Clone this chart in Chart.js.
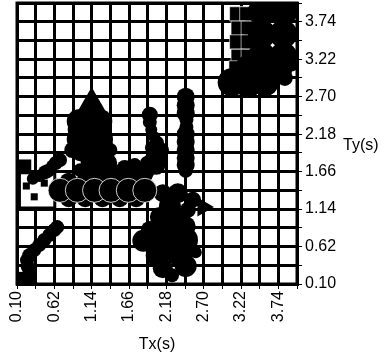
<!DOCTYPE html>
<html>
<head>
<meta charset="utf-8">
<script src="https://cdn.jsdelivr.net/npm/chart.js@4/dist/chart.umd.min.js"></script>
<style>
  html, body { margin: 0; padding: 0; background: #fff; }
  #wrap { width: 389px; height: 360px; }
</style>
</head>
<body>
<div id="wrap"><canvas id="c" width="389" height="360"></canvas></div>
<script>
// Period pairs (Tx, Ty) in seconds, grouped by record
const tickValues = [0.10, 0.62, 1.14, 1.66, 2.18, 2.70, 3.22, 3.74];
const axisMin = 0.10;
const axisMax = 4.00;
const gridStep = 0.26;

const seriesA = [
  {x:3.51,y:3.88},{x:3.81,y:3.88},{x:3.51,y:3.57},{x:3.81,y:3.57},
  {x:3.51,y:3.26},{x:3.81,y:3.26},{x:3.51,y:3.01},{x:3.09,y:2.90},{x:3.32,y:2.88}
];
const seriesB = [
  {x:2.13,y:0.70},{x:2.44,y:0.71},{x:2.37,y:0.52}
];
const seriesC = [
  {x:3.57,y:2.88},{x:3.76,y:3.04},{x:2.06,y:0.50},
  {x:0.96,y:2.36},{x:1.26,y:2.36},{x:0.96,y:2.11},{x:1.27,y:2.11},{x:1.12,y:2.24}
];
const seriesD = [
  {x:2.23,y:1.18},{x:1.86,y:0.70},{x:2.45,y:0.35},{x:2.20,y:0.88},
  {x:0.96,y:2.24},{x:1.27,y:2.24},{x:1.12,y:2.10},{x:1.12,y:2.38}
];
const seriesE = [
  {x:3.29,y:3.13},{x:3.90,y:3.18},{x:2.34,y:1.36},{x:2.09,y:1.03},{x:2.34,y:1.02},
  {x:2.45,y:0.90},{x:2.13,y:0.32},{x:1.12,y:1.82},{x:1.26,y:1.71}
];
const seriesF = [
  {x:2.08,y:1.95},{x:2.08,y:1.85},{x:2.04,y:1.74},
  {x:2.13,y:1.36},{x:1.95,y:0.85},{x:1.37,y:1.78},
  {x:0.98,y:1.93},{x:1.19,y:1.96},{x:1.09,y:1.65},
  {x:2.45,y:2.70},{x:2.45,y:2.58},{x:2.45,y:2.47},{x:2.45,y:2.18},
  {x:2.45,y:2.07},{x:2.45,y:1.96},{x:2.45,y:1.85},{x:2.45,y:1.75},
  {x:0.82,y:1.52},{x:1.05,y:1.52},{x:1.29,y:1.52},{x:1.53,y:1.52},{x:1.76,y:1.52},
  {x:0.82,y:1.29},{x:1.05,y:1.29},{x:1.29,y:1.29},{x:1.53,y:1.29},{x:1.76,y:1.29}
];
const seriesG = [
  {x:3.83,y:2.96},{x:1.95,y:2.45},{x:1.91,y:1.67},{x:1.79,y:1.61},{x:1.65,y:1.56},
  {x:2.55,y:1.27},{x:2.48,y:1.13},
  {x:0.87,y:1.96},{x:1.31,y:1.92},{x:1.19,y:1.63},{x:1.42,y:1.61},{x:1.60,y:1.71},
  {x:1.40,y:1.68},{x:1.67,y:1.61},{x:1.88,y:1.61},{x:1.98,y:1.82}
];
const seriesH = [
  {x:1.95,y:2.35},{x:2.05,y:2.06},{x:1.34,y:2.03},{x:0.70,y:1.82},{x:0.53,y:1.67},
  {x:0.98,y:1.68},{x:1.74,y:1.75},{x:2.26,y:0.22},
  {x:1.40,y:1.96},{x:0.64,y:1.78},{x:0.49,y:1.65},{x:2.12,y:1.96},
  {x:1.98,y:1.99},{x:1.91,y:1.78},
  {x:2.46,y:2.38},{x:2.46,y:2.28},{x:2.45,y:1.67},
  {x:0.28,y:0.14},{x:0.27,y:0.24},{x:0.25,y:0.34},{x:0.24,y:0.43},{x:0.27,y:0.50},
  {x:0.34,y:0.57},{x:0.41,y:0.64},{x:0.48,y:0.71},{x:0.55,y:0.78},{x:0.62,y:0.85},{x:0.66,y:0.89}
];
const seriesI = [
  {x:2.01,y:2.14},{x:1.51,y:1.67},{x:2.59,y:0.54},{x:0.59,y:1.74},{x:0.42,y:1.60},
  {x:0.32,y:1.56},{x:1.97,y:2.24},{x:0.35,y:1.59}
];
const seriesRing = [
  {x:0.70,y:1.40},{x:0.94,y:1.40},{x:1.18,y:1.40},{x:1.41,y:1.40},{x:1.65,y:1.40},{x:1.88,y:1.40}
];
const seriesTriUp = [{x:1.14,y:2.53}];
const seriesTriRight = [{x:2.69,y:1.17}];
const seriesSqFilled = [
  {x:3.16,y:3.85},{x:3.30,y:3.85},{x:3.18,y:3.65},{x:3.32,y:3.65},{x:3.16,y:3.46},
  {x:3.32,y:3.46},{x:3.18,y:3.26},{x:3.32,y:3.26},{x:3.15,y:3.10}
];
const seriesSqOpen = [{x:0.38,y:1.40}];
const seriesSqSmall = [{x:0.21,y:1.74},{x:0.17,y:0.18}];
const seriesSqTiny = [{x:0.23,y:1.46},{x:0.34,y:1.31},{x:0.48,y:1.50}];

const gridValues = [];
for (let i = 0; i <= Math.round((axisMax - axisMin) / gridStep); i++) {
  gridValues.push(+(axisMin + i * gridStep).toFixed(2));
}

const INK = '#000';
function solid(data, radius, style, extra) {
  return Object.assign({
    data, pointRadius: radius, pointStyle: style || 'circle',
    pointBackgroundColor: INK, pointBorderColor: INK, pointBorderWidth: 0,
    showLine: false, clip: 0
  }, extra || {});
}

const datasets = [
  solid(seriesSqOpen, 25, 'rect', { pointBackgroundColor: '#fff', pointBorderWidth: 3, order: 9 }),
  solid(seriesSqTiny, 5, 'rect', { order: 8 }),
  solid(seriesA, 14, 'circle', { order: 5 }),
  solid(seriesB, 13, 'circle', { order: 5 }),
  solid(seriesC, 12, 'circle', { order: 5 }),
  solid(seriesD, 11, 'circle', { order: 5 }),
  solid(seriesE, 10, 'circle', { order: 5 }),
  solid(seriesF, 9, 'circle', { order: 5 }),
  solid(seriesG, 8, 'circle', { order: 5 }),
  solid(seriesH, 7, 'circle', { order: 5 }),
  solid(seriesI, 6, 'circle', { order: 5 }),
  solid(seriesRing, 12, 'circle', { pointBorderColor: '#fff', pointBorderWidth: 0.8, order: 4 }),
  solid(seriesTriUp, 22, 'triangle', { order: 3 }),
  solid(seriesTriRight, 11, 'triangle', { rotation: 90, order: 3 }),
  solid(seriesSqFilled, 10, 'rect', { pointBorderColor: '#fff', pointBorderWidth: 0.6, order: 6 }),
  solid(seriesSqSmall, 9, 'rect', { order: 2 })
];

const tickFont = { family: "'Liberation Sans', Arial, sans-serif", size: 16 };
function tickLabel(value) {
  return tickValues.some(t => Math.abs(t - value) < 1e-6) ? value.toFixed(2) : '';
}

// Outer frame and horizontal axis titles
const framePlugin = {
  id: 'frameAndTitles',
  afterDraw(chart) {
    const { ctx, chartArea: a } = chart;
    ctx.save();
    ctx.strokeStyle = INK;
    ctx.lineWidth = 3;
    ctx.strokeRect(a.left, a.top, a.right - a.left, a.bottom - a.top);
    ctx.fillStyle = INK;
    ctx.font = "16px 'Liberation Sans', Arial, sans-serif";
    ctx.textBaseline = 'middle';
    ctx.textAlign = 'center';
    ctx.fillText('Tx(s)', (a.left + a.right) / 2, 345);
    ctx.textAlign = 'left';
    ctx.fillText('Ty(s)', 343, (a.top + a.bottom) / 2 + 2);
    ctx.restore();
  }
};

function noPadding(s) {
  s.paddingTop = 0; s.paddingBottom = 0; s.paddingLeft = 0; s.paddingRight = 0;
}

const axisCommon = {
  type: 'linear',
  min: axisMin,
  max: axisMax,
  afterBuildTicks: (scale) => { scale.ticks = gridValues.map(v => ({ value: v })); },
  grid: { color: INK, lineWidth: 3, drawTicks: true, tickLength: 5, tickColor: INK, tickWidth: 1 },
  border: { display: true, color: INK, width: 3 },
  title: { display: false }
};

new Chart(document.getElementById('c'), {
  type: 'scatter',
  data: { datasets },
  options: {
    responsive: false,
    animation: false,
    events: [],
    layout: { autoPadding: false, padding: { left: 17, top: 3, right: 0, bottom: 0 } },
    plugins: { legend: { display: false }, tooltip: { enabled: false } },
    scales: {
      x: Object.assign({}, axisCommon, {
        position: 'bottom',
        afterFit: (s) => { s.height = 76; noPadding(s); },
        ticks: { autoSkip: false, minRotation: 90, maxRotation: 90, padding: 2,
                 color: INK, font: tickFont, callback: tickLabel }
      }),
      y: Object.assign({}, axisCommon, {
        position: 'right',
        afterFit: (s) => { s.width = 92; noPadding(s); },
        ticks: { autoSkip: false, padding: 3, color: INK, font: tickFont, callback: tickLabel }
      })
    }
  },
  plugins: [framePlugin]
});
</script>
</body>
</html>
